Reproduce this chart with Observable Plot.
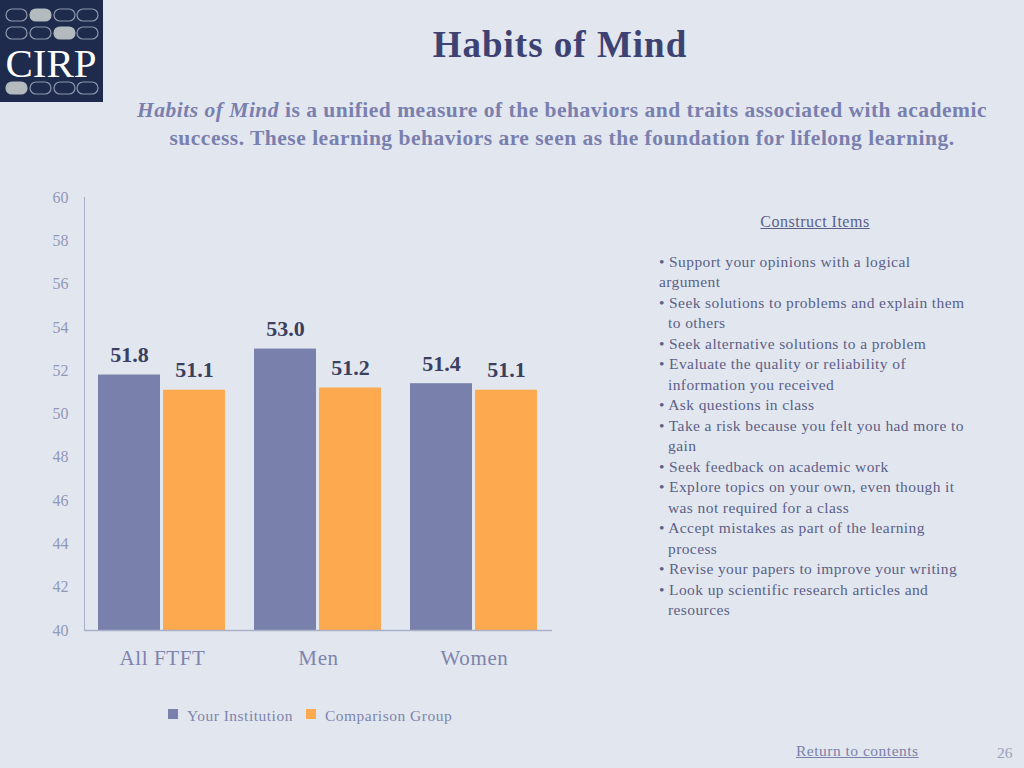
<!DOCTYPE html>
<html><head><meta charset="utf-8">
<script src="https://cdn.jsdelivr.net/npm/d3@7"></script>
<script src="https://cdn.jsdelivr.net/npm/@observablehq/plot@0.6"></script>
<style>
html,body{margin:0;padding:0;}
body{background:#e2e7ef;width:1024px;height:768px;overflow:hidden;position:relative;font-family:"Liberation Serif","DejaVu Serif",serif;}
.abs{position:absolute;}
#title{left:310px;width:500px;top:25px;text-align:center;font-size:37px;letter-spacing:1px;line-height:40px;font-weight:bold;color:#3d4272;}
#subtitle{left:62px;width:1000px;top:97px;text-align:center;font-size:21.5px;letter-spacing:0.5px;line-height:27.5px;font-weight:bold;color:#7a7fae;}
#chart{left:0;top:180px;}
#chart svg g[aria-label^="fx-axis"] text{font-size:21px;letter-spacing:0.6px;fill:#7e84ac;}
#chart svg g[aria-label^="y-axis"] text{font-size:16px;fill:#9298b8;}
#construct{left:715px;width:200px;top:213px;text-align:center;font-size:16px;letter-spacing:0.5px;color:#5b6088;text-decoration:underline;}
#items{left:659px;top:252px;font-size:15.5px;letter-spacing:0.4px;line-height:20.47px;color:#5b6088;white-space:nowrap;}
#items .cont{padding-left:9px;}
#legend{left:168px;top:707px;font-size:15.5px;letter-spacing:0.5px;color:#7e84ac;display:flex;align-items:center;}
#legend .sw{display:inline-block;width:10px;height:10px;margin-right:9px;position:relative;top:-2px;}
#legend .it{display:flex;align-items:center;margin-right:13px;}
#ret{left:796px;top:742px;font-size:15.5px;letter-spacing:0.5px;color:#7a80a8;text-decoration:underline;}
#page{left:997px;top:744px;font-size:15.5px;color:#9aa0b8;}
</style></head><body>
<svg class="abs" style="left:0;top:0" width="104" height="103" viewBox="0 0 104 103">
  <rect x="0" y="0" width="103" height="102" fill="#1e2b4d"/>
  <g fill="none" stroke="#8e98ad" stroke-width="1.2">
    <rect x="6" y="9" width="21" height="12" rx="6"/>
    <rect x="30" y="9" width="21" height="12" rx="6" fill="#b4bbbf" stroke="#b4bbbf"/>
    <rect x="54" y="9" width="21" height="12" rx="6"/>
    <rect x="77" y="9" width="21" height="12" rx="6"/>
    <rect x="6" y="27" width="21" height="12" rx="6"/>
    <rect x="30" y="27" width="21" height="12" rx="6"/>
    <rect x="54" y="27" width="21" height="12" rx="6" fill="#b4bbbf" stroke="#b4bbbf"/>
    <rect x="77" y="27" width="21" height="12" rx="6"/>
    <rect x="6" y="82" width="21" height="12" rx="6" fill="#b4bbbf" stroke="#b4bbbf"/>
    <rect x="30" y="82" width="21" height="12" rx="6"/>
    <rect x="54" y="82" width="21" height="12" rx="6"/>
    <rect x="77" y="82" width="21" height="12" rx="6"/>
  </g>
  <text x="51" y="77" text-anchor="middle" fill="#ffffff" font-family="Liberation Serif" font-size="41">CIRP</text>
</svg>
<div id="title" class="abs">Habits of Mind</div>
<div id="subtitle" class="abs"><i>Habits of Mind</i> is a unified measure of the behaviors and traits associated with academic<br>success. These learning behaviors are seen as the foundation for lifelong learning.</div>
<div id="chart" class="abs"></div>
<div id="construct" class="abs">Construct Items</div>
<div id="items" class="abs"></div>
<div id="legend" class="abs"></div>
<div id="ret" class="abs">Return to contents</div>
<div id="page" class="abs">26</div>
<script>
const groups = ["All FTFT", "Men", "Women"];
const series = ["Your Institution", "Comparison Group"];
const yourInstitution = [51.8, 53.0, 51.4];
const comparisonGroup = [51.1, 51.2, 51.1];
const yTicks = [40, 42, 44, 46, 48, 50, 52, 54, 56, 58, 60];
const seriesColors = ["#7880ab", "#fda94f"];
const constructItems = [
  ["Support your opinions with a logical", "argument"],
  ["Seek solutions to problems and explain them", "to others"],
  ["Seek alternative solutions to a problem"],
  ["Evaluate the quality or reliability of", "information you received"],
  ["Ask questions in class"],
  ["Take a risk because you felt you had more to", "gain"],
  ["Seek feedback on academic work"],
  ["Explore topics on your own, even though it", "was not required for a class"],
  ["Accept mistakes as part of  the learning", "process"],
  ["Revise your papers to improve your writing"],
  ["Look up scientific research articles and", "resources"]
];

const data = groups.flatMap((g, i) => [
  {group: g, series: series[0], value: yourInstitution[i]},
  {group: g, series: series[1], value: comparisonGroup[i]}
]);

const chart = Plot.plot({
  width: 600, height: 500,
  marginLeft: 84, marginRight: 48, marginTop: 17, marginBottom: 50,
  style: {background: "transparent", fontFamily: "Liberation Serif", color: "#a9afc5", overflow: "visible"},
  fx: {domain: groups, padding: 0, label: null, tickSize: 0, tickPadding: 20, axis: "bottom"},
  x: {domain: series, axis: null, paddingInner: 0.046, paddingOuter: 0.223},
  y: {domain: [40, 60], ticks: yTicks, tickSize: 0, tickPadding: 16, label: null, line: true},
  color: {domain: series, range: seriesColors},
  marks: [
    Plot.barY(data, {fx: "group", x: "series", y1: 40, y2: "value", fill: "series"}),
    Plot.ruleY([40], {stroke: "#a9afc5", strokeWidth: 1.5}),
    Plot.text(data, {fx: "group", x: "series", y: "value", text: d => d.value.toFixed(1), dy: -20, fontSize: 22, fontWeight: "bold", fill: "#3b4060"})
  ]
});
document.getElementById("chart").appendChild(chart);

const itemsEl = document.getElementById("items");
constructItems.forEach((lines, k) => {
  lines.forEach((line, j) => {
    const div = document.createElement("div");
    if (j === 0) div.textContent = "\u2022 " + line;
    else { div.textContent = line; if (k > 0) div.className = "cont"; }
    itemsEl.appendChild(div);
  });
});

const legendEl = document.getElementById("legend");
series.forEach((s, i) => {
  const it = document.createElement("span");
  it.className = "it";
  const sw = document.createElement("span");
  sw.className = "sw";
  sw.style.background = seriesColors[i];
  it.appendChild(sw);
  it.appendChild(document.createTextNode(s));
  legendEl.appendChild(it);
});
</script>
</body></html>
